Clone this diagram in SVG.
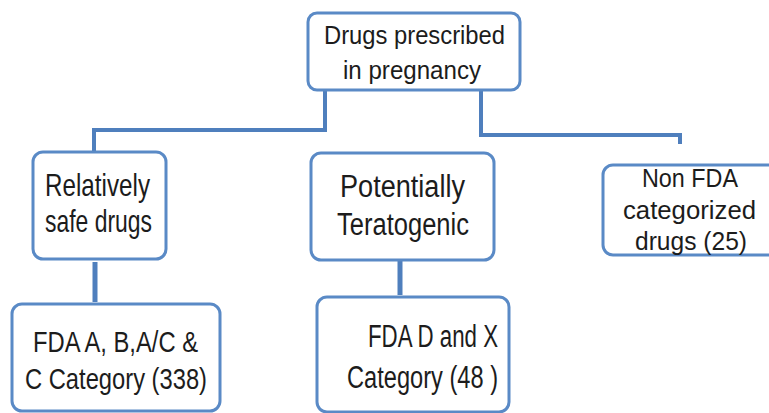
<svg xmlns="http://www.w3.org/2000/svg" width="769" height="413" viewBox="0 0 769 413">
  <style>
    .box { fill: #ffffff; stroke: #5a8ac6; stroke-width: 3; }
    .conn { fill: none; stroke: #4f7fbd; stroke-width: 4; stroke-linejoin: miter; }
    .conn2 { fill: none; stroke: #4f7fbd; stroke-width: 5; }
    text { font-family: "Liberation Sans", Arial, sans-serif; fill: #1c1c1c; }
  </style>
  <rect width="769" height="413" fill="#ffffff"/>
  <g id="connectors">
    <polyline class="conn" points="325,91 325,130 94,130 94,152"/>
    <polyline class="conn" points="481,91 481,135 680,135 680,144"/>
    <line class="conn2" x1="95" y1="262" x2="95" y2="302"/>
    <line class="conn2" x1="400" y1="261" x2="400" y2="295"/>
  </g>
  <g id="root">
    <rect class="box" x="308" y="13" width="212" height="77" rx="9"/>
    <text x="324" y="44" font-size="25" textLength="181" lengthAdjust="spacingAndGlyphs">Drugs prescribed</text>
    <text x="343" y="79" font-size="25" textLength="138" lengthAdjust="spacingAndGlyphs">in pregnancy</text>
  </g>
  <g id="safe">
    <rect class="box" x="33" y="152" width="133" height="107" rx="10"/>
    <text x="45" y="196" font-size="32" textLength="105" lengthAdjust="spacingAndGlyphs">Relatively</text>
    <text x="45" y="232" font-size="32" textLength="107" lengthAdjust="spacingAndGlyphs">safe drugs</text>
  </g>
  <g id="teratogenic">
    <rect class="box" x="311" y="153" width="183" height="107" rx="10"/>
    <text x="340" y="197" font-size="31" textLength="125" lengthAdjust="spacingAndGlyphs">Potentially</text>
    <text x="337" y="235" font-size="31" textLength="132" lengthAdjust="spacingAndGlyphs">Teratogenic</text>
  </g>
  <g id="nonfda">
    <rect class="box" x="603" y="165" width="200" height="90" rx="10"/>
    <text x="642" y="187" font-size="25" textLength="96" lengthAdjust="spacingAndGlyphs">Non FDA</text>
    <text x="623" y="219" font-size="25" textLength="133" lengthAdjust="spacingAndGlyphs">categorized</text>
    <text x="635" y="250" font-size="25" textLength="112" lengthAdjust="spacingAndGlyphs">drugs (25)</text>
  </g>
  <g id="fda-abc">
    <rect class="box" x="12" y="304" width="208" height="107" rx="10"/>
    <text x="33" y="352" font-size="29" textLength="165" lengthAdjust="spacingAndGlyphs">FDA A, B,A/C &amp;</text>
    <text x="25" y="389" font-size="29" textLength="182" lengthAdjust="spacingAndGlyphs">C Category (338)</text>
  </g>
  <g id="fda-dx">
    <rect class="box" x="317" y="297" width="192" height="115" rx="10"/>
    <text x="368" y="347" font-size="31" textLength="130" lengthAdjust="spacingAndGlyphs">FDA D and X</text>
    <text x="347" y="388" font-size="31" textLength="151" lengthAdjust="spacingAndGlyphs">Category (48 )</text>
  </g>
</svg>
